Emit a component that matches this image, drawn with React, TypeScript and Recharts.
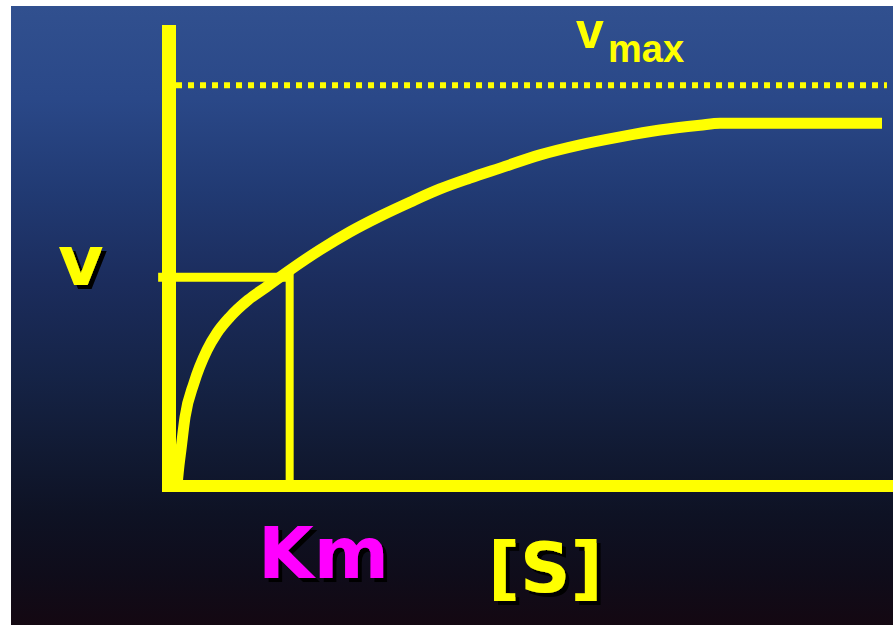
import React from 'react';
import { ComposedChart, Line, XAxis, YAxis, ReferenceLine, Customized } from 'recharts';

// substrate concentration (in units of Km) and reaction rate (% of Vmax)
const S_VALUES = [0.066, 0.083, 0.099, 0.133, 0.207, 0.315, 0.398, 0.506, 0.655, 0.804, 1.003, 1.251, 1.5, 1.749, 1.997, 2.246, 2.494, 2.743, 3.075, 3.406, 3.738, 4.069, 4.4, 4.566, 5.909];
const V_VALUES = [0, 5.2, 9.0, 17.2, 25.7, 33.9, 38.2, 42.2, 46.4, 49.6, 53.9, 58.9, 63.4, 67.3, 70.8, 74.1, 76.8, 79.3, 82.6, 85.1, 87.1, 88.8, 90.0, 90.5, 90.5];
const KM_VALUE = 1.0;
const V_AT_KM = 52.1;
const VMAX_VALUE = 100;
const X_DOMAIN = [0, 6];
const Y_DOMAIN = [0, 115];

const LABEL_V = 'v';
const LABEL_VMAX_MAIN = 'v';
const LABEL_VMAX_SUB = 'max';
const LABEL_KM = 'Km';
const LABEL_S = '[S]';

const data = S_VALUES.map((s, i) => ({ s, v: V_VALUES[i] }));

const YELLOW = '#ffff00';
const FONT_A = '"Liberation Sans", Arial, sans-serif';
const FONT_B = '"DejaVu Sans", sans-serif';

const Labels = () => (
  <g>
    <defs>
      <filter id="dropShadow" x="-20%" y="-20%" width="150%" height="150%">
        <feDropShadow dx={4} dy={4} stdDeviation={0.6} floodColor="#000000" floodOpacity={1} />
      </filter>
    </defs>
    <text x={58} y={285} fontSize={70} fontWeight="bold" fontFamily={FONT_B} fill={YELLOW} filter="url(#dropShadow)">{LABEL_V}</text>
    <text x={576} y={48} fontSize={50} fontWeight="bold" fontFamily={FONT_A} fill={YELLOW}>
      {LABEL_VMAX_MAIN}
      <tspan x={608} y={62} fontSize={38}>{LABEL_VMAX_SUB}</tspan>
    </text>
    <text x={258} y={578} fontSize={72} fontWeight="bold" fontFamily={FONT_B} fill="#ff00ff" filter="url(#dropShadow)">{LABEL_KM}</text>
    <text x={488} y={592} fontSize={70} fontWeight="bold" fontFamily={FONT_B} fill={YELLOW} filter="url(#dropShadow)">{LABEL_S}</text>
  </g>
);

export default function App() {
  return (
    <div style={{ position: 'absolute', left: 0, top: 0, width: 893, height: 625, background: '#ffffff' }}>
      <div
        style={{
          position: 'absolute',
          left: 11,
          top: 6,
          width: 882,
          height: 619,
          background:
            'linear-gradient(to bottom, #31508f 0%, #2a4888 15%, #213a73 30%, #1b2c5c 45%, #152346 60%, #111a33 72%, #0e1224 82%, #0f0c1a 92%, #140812 100%)',
        }}
      />
      <div style={{ position: 'absolute', left: 0, top: 0 }}>
        <ComposedChart width={893} height={625} data={data} margin={{ top: 25, right: 0, bottom: 139, left: 169 }}>
          <XAxis type="number" dataKey="s" domain={X_DOMAIN} allowDataOverflow hide />
          <YAxis type="number" domain={Y_DOMAIN} allowDataOverflow hide />
          {/* axes drawn as thick yellow lines */}
          <ReferenceLine
            segment={[{ x: 0, y: 0 }, { x: 0, y: Y_DOMAIN[1] }]}
            stroke={YELLOW}
            strokeWidth={14}
            ifOverflow="visible"
          />
          <ReferenceLine
            segment={[{ x: -0.058, y: 0 }, { x: X_DOMAIN[1], y: 0 }]}
            stroke={YELLOW}
            strokeWidth={12}
            ifOverflow="visible"
          />
          <ReferenceLine
            segment={[{ x: 0.058, y: VMAX_VALUE }, { x: 5.95, y: VMAX_VALUE }]}
            stroke={YELLOW}
            strokeWidth={6}
            strokeDasharray="6 6"
            ifOverflow="visible"
          />
          <ReferenceLine
            segment={[{ x: -0.09, y: V_AT_KM }, { x: KM_VALUE, y: V_AT_KM }]}
            stroke={YELLOW}
            strokeWidth={9}
            ifOverflow="visible"
          />
          <ReferenceLine
            segment={[{ x: KM_VALUE, y: 0 }, { x: KM_VALUE, y: V_AT_KM + 1 }]}
            stroke={YELLOW}
            strokeWidth={8}
            ifOverflow="visible"
          />
          <Line
            type="monotone"
            dataKey="v"
            stroke={YELLOW}
            strokeWidth={11}
            dot={false}
            activeDot={false}
            isAnimationActive={false}
          />
          <Customized component={Labels} />
        </ComposedChart>
      </div>
    </div>
  );
}
